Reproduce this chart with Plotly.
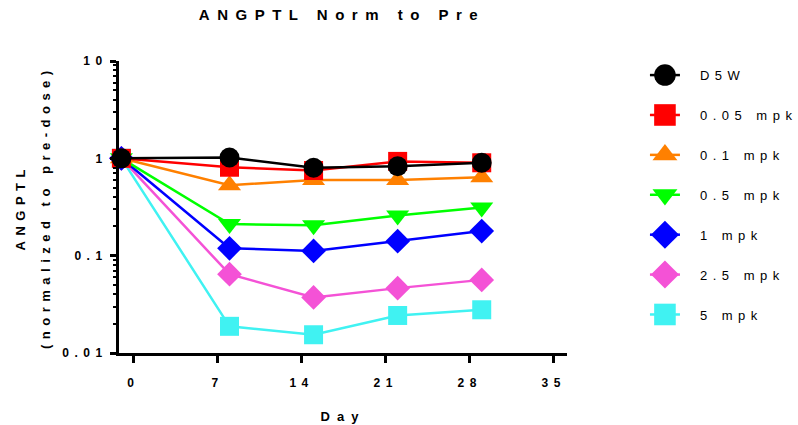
import plotly.graph_objects as go

# Sampling days (pre-dose sample taken on day -1)
days = [-1, 8, 15, 22, 29]

# ANGPTL normalized to the pre-dose value, per dose group
groups = ["D5W", "0.05 mpk", "0.1 mpk", "0.5 mpk", "1 mpk", "2.5 mpk", "5 mpk"]
d5w = [1.0, 1.02, 0.80, 0.83, 0.90]
mpk_005 = [1.0, 0.81, 0.75, 0.93, 0.90]
mpk_01 = [1.0, 0.53, 0.60, 0.60, 0.64]
mpk_05 = [1.0, 0.211, 0.205, 0.259, 0.313]
mpk_1 = [1.0, 0.119, 0.112, 0.141, 0.179]
mpk_25 = [1.0, 0.0645, 0.0372, 0.0464, 0.0564]
mpk_5 = [1.0, 0.0188, 0.0154, 0.0243, 0.0278]
series = [d5w, mpk_005, mpk_01, mpk_05, mpk_1, mpk_25, mpk_5]

colors = ["#000000", "#FF0000", "#FF8000", "#00FF00", "#0000FF", "#F452D6", "#40F2F2"]
symbols = ["circle", "square", "triangle-up", "triangle-down", "diamond", "diamond", "square"]
sizes = [20, 19, 20, 20, 19, 19, 19]

x_ticks = [0, 7, 14, 21, 28, 35]
y_ticks = [0.01, 0.1, 1, 10]
y_tick_text = ["0.01", "0.1", "1", "10"]

FONT = "Liberation Sans, Arial, sans-serif"

fig = go.Figure()
# draw the highest dose first so the control group ends up on top
for i in reversed(range(len(groups))):
    fig.add_trace(go.Scatter(
        x=days, y=series[i], name=groups[i],
        mode="lines+markers",
        line=dict(color=colors[i], width=2.5),
        marker=dict(symbol=symbols[i], size=sizes[i], color=colors[i], line=dict(width=0)),
        legendgroup=groups[i], legendrank=i + 1,
        cliponaxis=False,
    ))

fig.update_layout(
    width=798, height=425,
    margin=dict(l=119, r=231, t=61, b=72, autoexpand=False),
    paper_bgcolor="white", plot_bgcolor="white",
    font=dict(family=FONT, color="black"),
    title=dict(text="<b>ANGPTL Norm to Pre</b>", x=342 / 798, xanchor="center",
               y=1 - 15 / 425, yanchor="middle", yref="container",
               font=dict(size=15, family=FONT)),
    showlegend=True,
    legend=dict(x=1.174, xanchor="left", y=1.003, yanchor="top",
                traceorder="grouped", tracegroupgap=20, itemwidth=30,
                maxheight=400, font=dict(size=13, family=FONT),
                bgcolor="rgba(0,0,0,0)"),
    xaxis=dict(range=[-1.2, 36.1], tickvals=x_ticks, showgrid=False, zeroline=False,
               showline=True, linecolor="black", linewidth=3, automargin=False,
               ticks="outside", ticklen=7, tickwidth=2.5, tickcolor="black",
               ticklabelstandoff=10,
               tickfont=dict(size=12, family=FONT, weight="bold"),
               title=dict(text="<b>Day</b>", font=dict(size=13, family=FONT), standoff=23)),
    yaxis=dict(type="log", range=[-2, 1], tickvals=y_ticks, ticktext=y_tick_text,
               showgrid=False, zeroline=False, automargin=False,
               showline=True, linecolor="black", linewidth=3,
               ticks="outside", ticklen=6, tickwidth=2.5, tickcolor="black",
               tickfont=dict(size=12, family=FONT, weight="bold"),
               minor=dict(ticks="outside", ticklen=3.5, tickwidth=2, tickcolor="black",
                          dtick="D1", showgrid=False)),
    annotations=[
        dict(text="<b>ANGPTL</b>", textangle=-90, xref="paper", yref="paper",
             x=0, y=0.5, xanchor="center", yanchor="middle", xshift=20 - 119,
             showarrow=False, font=dict(size=13, family=FONT)),
        dict(text="<b>(normalized to pre-dose)</b>", textangle=-90, xref="paper", yref="paper",
             x=0, y=0.5, xanchor="center", yanchor="middle", xshift=45 - 119,
             showarrow=False, font=dict(size=13, family=FONT)),
    ],
)

# widely tracked lettering; the legend box is sized before tracking, so let it overflow.
# Legend symbols are enlarged and the labels nudged right of them.
spacing_css = (
    ".gtitle{letter-spacing:7.5px}"
    ".legendtext{letter-spacing:5.5px;transform:translate(15px,0px)}"
    ".xtick text,.ytick text{letter-spacing:5.5px}"
    ".xtitle{letter-spacing:7px}"
    ".annotation-text{letter-spacing:5.5px}"
    ".legend .scrollbox{clip-path:none !important}"
    ".legend .scrollbar{display:none}"
    ".legend path.scatterpts{transform:translate(20px,0px) scale(1.35)}"
)
post = ("var s=document.createElement('style');s.textContent='" + spacing_css +
        "';document.head.appendChild(s);")

fig.write_html("out.html", post_script=post)
